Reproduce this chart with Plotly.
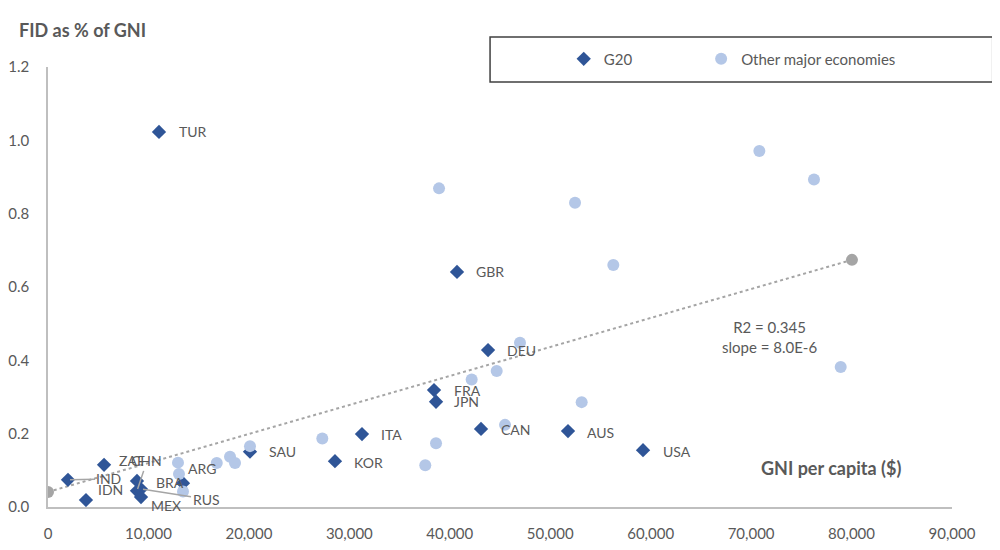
import plotly.graph_objects as go

# G20 economies (diamonds)
g20_codes = ["TUR", "GBR", "DEU", "FRA", "JPN", "ITA", "KOR", "CAN", "AUS", "USA",
             "SAU", "ZAF", "IND", "IDN", "BRA", "CHN", "RUS", "MEX", "ARG"]
g20_gni = [11050, 40720, 43810, 38430, 38630, 31260, 28570, 43110, 51770, 59240,
           20110, 5580, 1990, 3780, 8860, 8860, 9260, 9260, 13440]
g20_fid = [1.023, 0.641, 0.428, 0.319, 0.287, 0.199, 0.125, 0.213, 0.207, 0.155,
           0.151, 0.115, 0.074, 0.019, 0.071, 0.044, 0.049, 0.027, 0.065]

# other major economies (circles)
other_gni = [38930, 52470, 70820, 76260, 56280, 46990, 44670, 42180, 53130, 78920,
             45500, 38630, 37560, 27310, 20110, 18120, 18620, 16800, 12940, 13040, 13440]
other_fid = [0.869, 0.830, 0.971, 0.893, 0.660, 0.448, 0.371, 0.348, 0.286, 0.382,
             0.224, 0.174, 0.114, 0.187, 0.166, 0.137, 0.120, 0.120, 0.121, 0.090, 0.042]

# linear trend end points
trend_gni = [0, 80040]
trend_fid = [0.041, 0.674]
trend_text = "R2 = 0.345<br>slope = 8.0E-6"

x_ticks = [0, 10000, 20000, 30000, 40000, 50000, 60000, 70000, 80000, 90000]
y_ticks = [0.0, 0.2, 0.4, 0.6, 0.8, 1.0, 1.2]

DARK = "#2F5597"
LIGHT = "#B4C7E7"
GREY = "#A5A5A5"
TXT = "#595959"
FONT = "Lato"

# label offsets in px (dx, dy) - dy positive = up
label_shift = {
    "TUR": (19, 0), "GBR": (18, 0), "DEU": (18, 0), "FRA": (19, 0), "JPN": (17, 0),
    "ITA": (18, 0), "KOR": (18, -1), "CAN": (19, -1), "AUS": (18, -1), "USA": (19, -1),
    "SAU": (18, 0), "ZAF": (14, 4), "IDN": (11, 11), "BRA": (18, -2), "MEX": (9, -8),
    "ARG": (4, 15),
}
# labels moved away with a leader line (ax, ay in px, to text centre)
leader = {"CHN": (10, -30), "RUS": (65, 10), "IND": (41, -1)}

fig = go.Figure()

fig.add_trace(go.Scatter(
    x=trend_gni, y=trend_fid, mode="lines+markers", showlegend=False,
    line=dict(color=GREY, width=2, dash="dot"),
    marker=dict(color=GREY, size=12), hoverinfo="skip"))

fig.add_trace(go.Scatter(
    x=g20_gni, y=g20_fid, mode="markers", name="G20", legend="legend",
    marker=dict(symbol="diamond", color=DARK, size=11), text=g20_codes))

fig.add_trace(go.Scatter(
    x=other_gni, y=other_fid, mode="markers", name="Other major economies",
    legend="legend2",
    marker=dict(symbol="circle", color=LIGHT, size=12)))

for code, gx, gy in zip(g20_codes, g20_gni, g20_fid):
    if code in leader:
        ax, ay = leader[code]
        fig.add_annotation(x=gx, y=gy, text=code, showarrow=True, arrowhead=0,
                           arrowwidth=1.5, arrowcolor=GREY, ax=ax, ay=ay, standoff=2,
                           font=dict(family=FONT, size=14, color=TXT))
    else:
        dx, dy = label_shift[code]
        fig.add_annotation(x=gx, y=gy, text=code, showarrow=False, xanchor="left",
                           xshift=dx - 1, yshift=dy,
                           font=dict(family=FONT, size=14, color=TXT))

fig.add_annotation(x=71880, y=0.465, text=trend_text, showarrow=False,
                   font=dict(family=FONT, size=15, color=TXT), align="center")

fig.add_annotation(xref="paper", yref="paper", x=0.866, y=0.0886,
                   xanchor="center", yanchor="middle",
                   text="<b>GNI per capita ($)</b>", showarrow=False,
                   font=dict(family=FONT, size=18, color=TXT))
fig.add_annotation(xref="paper", yref="paper", x=-0.034, y=1.084, xanchor="left",
                   yanchor="middle", text="<b>FID as % of GNI</b>", showarrow=False,
                   font=dict(family=FONT, size=18, color=TXT))

# legend frame
fig.add_shape(type="rect", xref="paper", yref="paper",
              x0=0.489, x1=1.045, y0=0.966, y1=1.068,
              line=dict(color="#404040", width=1.5), fillcolor="rgba(0,0,0,0)")

leg_font = dict(family=FONT, size=15, color=TXT)
# page has an 8px body margin, so the figure is 8px smaller each way
fig.update_layout(
    width=992, height=542,
    margin=dict(l=40, r=48, t=59, b=43, autoexpand=False),
    paper_bgcolor="white", plot_bgcolor="white",
    font=dict(family=FONT, color=TXT),
    legend=dict(orientation="h", x=0.5705, y=1.018, xanchor="left", yanchor="middle",
                bgcolor="rgba(0,0,0,0)", font=leg_font),
    legend2=dict(orientation="h", x=0.7225, y=1.018, xanchor="left", yanchor="middle",
                 bgcolor="rgba(0,0,0,0)", font=leg_font),
    showlegend=True,
)

fig.update_xaxes(range=[0, 90000], tickvals=x_ticks, tickformat=",", showgrid=False,
                 zeroline=False, showline=True, linecolor="#BFBFBF", linewidth=1.5,
                 ticks="", ticklabelstandoff=12, automargin=False,
                 tickfont=dict(family=FONT, size=15, color=TXT))
fig.update_yaxes(range=[0, 1.2], tickvals=y_ticks, tickformat=".1f", showgrid=False,
                 zeroline=False, showline=True, linecolor="#BFBFBF", linewidth=1.5,
                 ticks="", ticklabelstandoff=14, automargin=False,
                 tickfont=dict(family=FONT, size=15, color=TXT))

fig.write_html("out.html")
